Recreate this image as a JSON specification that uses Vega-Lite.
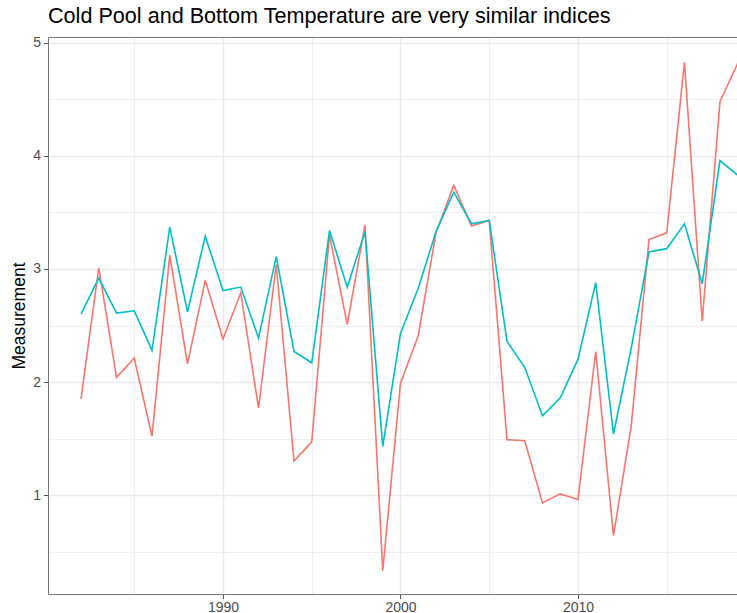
{
  "$schema": "https://vega.github.io/schema/vega-lite/v6.json",
  "width": 689,
  "height": 557,
  "autosize": {"type": "none"},
  "padding": {"left": 48, "top": 37, "right": 0, "bottom": 19},
  "background": "white",
  "title": {
    "text": "Cold Pool and Bottom Temperature are very similar indices",
    "anchor": "start",
    "frame": "group",
    "font": "Liberation Sans",
    "fontSize": 21.6,
    "fontWeight": "normal",
    "color": "#000000",
    "offset": 8
  },
  "config": {
    "view": {"stroke": null},
    "axis": {
      "labelFont": "Liberation Sans",
      "labelFontSize": 14,
      "labelColor": "#4D4D4D",
      "titleFont": "Liberation Sans",
      "titleFontWeight": "normal",
      "titleColor": "#000000",
      "domainColor": "#777777",
      "domainWidth": 1,
      "tickColor": "#555555",
      "tickSize": 4.5,
      "gridColor": "#EBEBEB",
      "labelOverlap": false,
      "labelFlush": false
    }
  },
  "data": {
    "values": [
      {"year": 1982, "series": "Bottom Temperature", "value": 1.85},
      {"year": 1983, "series": "Bottom Temperature", "value": 3.01},
      {"year": 1984, "series": "Bottom Temperature", "value": 2.04},
      {"year": 1985, "series": "Bottom Temperature", "value": 2.21},
      {"year": 1986, "series": "Bottom Temperature", "value": 1.52},
      {"year": 1987, "series": "Bottom Temperature", "value": 3.12},
      {"year": 1988, "series": "Bottom Temperature", "value": 2.16},
      {"year": 1989, "series": "Bottom Temperature", "value": 2.90},
      {"year": 1990, "series": "Bottom Temperature", "value": 2.38},
      {"year": 1991, "series": "Bottom Temperature", "value": 2.79},
      {"year": 1992, "series": "Bottom Temperature", "value": 1.77},
      {"year": 1993, "series": "Bottom Temperature", "value": 3.04},
      {"year": 1994, "series": "Bottom Temperature", "value": 1.30},
      {"year": 1995, "series": "Bottom Temperature", "value": 1.47},
      {"year": 1996, "series": "Bottom Temperature", "value": 3.30},
      {"year": 1997, "series": "Bottom Temperature", "value": 2.51},
      {"year": 1998, "series": "Bottom Temperature", "value": 3.39},
      {"year": 1999, "series": "Bottom Temperature", "value": 0.33},
      {"year": 2000, "series": "Bottom Temperature", "value": 1.99},
      {"year": 2001, "series": "Bottom Temperature", "value": 2.41},
      {"year": 2002, "series": "Bottom Temperature", "value": 3.32},
      {"year": 2003, "series": "Bottom Temperature", "value": 3.74},
      {"year": 2004, "series": "Bottom Temperature", "value": 3.38},
      {"year": 2005, "series": "Bottom Temperature", "value": 3.43},
      {"year": 2006, "series": "Bottom Temperature", "value": 1.49},
      {"year": 2007, "series": "Bottom Temperature", "value": 1.48},
      {"year": 2008, "series": "Bottom Temperature", "value": 0.93},
      {"year": 2009, "series": "Bottom Temperature", "value": 1.01},
      {"year": 2010, "series": "Bottom Temperature", "value": 0.96},
      {"year": 2011, "series": "Bottom Temperature", "value": 2.27},
      {"year": 2012, "series": "Bottom Temperature", "value": 0.64},
      {"year": 2013, "series": "Bottom Temperature", "value": 1.61},
      {"year": 2014, "series": "Bottom Temperature", "value": 3.26},
      {"year": 2015, "series": "Bottom Temperature", "value": 3.32},
      {"year": 2016, "series": "Bottom Temperature", "value": 4.83},
      {"year": 2017, "series": "Bottom Temperature", "value": 2.54},
      {"year": 2018, "series": "Bottom Temperature", "value": 4.48},
      {"year": 2019, "series": "Bottom Temperature", "value": 4.82},
      {"year": 1982, "series": "Cold Pool", "value": 2.60},
      {"year": 1983, "series": "Cold Pool", "value": 2.92},
      {"year": 1984, "series": "Cold Pool", "value": 2.61},
      {"year": 1985, "series": "Cold Pool", "value": 2.63},
      {"year": 1986, "series": "Cold Pool", "value": 2.28},
      {"year": 1987, "series": "Cold Pool", "value": 3.37},
      {"year": 1988, "series": "Cold Pool", "value": 2.62},
      {"year": 1989, "series": "Cold Pool", "value": 3.29},
      {"year": 1990, "series": "Cold Pool", "value": 2.81},
      {"year": 1991, "series": "Cold Pool", "value": 2.84},
      {"year": 1992, "series": "Cold Pool", "value": 2.39},
      {"year": 1993, "series": "Cold Pool", "value": 3.11},
      {"year": 1994, "series": "Cold Pool", "value": 2.27},
      {"year": 1995, "series": "Cold Pool", "value": 2.17},
      {"year": 1996, "series": "Cold Pool", "value": 3.34},
      {"year": 1997, "series": "Cold Pool", "value": 2.84},
      {"year": 1998, "series": "Cold Pool", "value": 3.33},
      {"year": 1999, "series": "Cold Pool", "value": 1.43},
      {"year": 2000, "series": "Cold Pool", "value": 2.43},
      {"year": 2001, "series": "Cold Pool", "value": 2.83},
      {"year": 2002, "series": "Cold Pool", "value": 3.33},
      {"year": 2003, "series": "Cold Pool", "value": 3.68},
      {"year": 2004, "series": "Cold Pool", "value": 3.40},
      {"year": 2005, "series": "Cold Pool", "value": 3.43},
      {"year": 2006, "series": "Cold Pool", "value": 2.36},
      {"year": 2007, "series": "Cold Pool", "value": 2.13},
      {"year": 2008, "series": "Cold Pool", "value": 1.70},
      {"year": 2009, "series": "Cold Pool", "value": 1.86},
      {"year": 2010, "series": "Cold Pool", "value": 2.20},
      {"year": 2011, "series": "Cold Pool", "value": 2.88},
      {"year": 2012, "series": "Cold Pool", "value": 1.54},
      {"year": 2013, "series": "Cold Pool", "value": 2.30},
      {"year": 2014, "series": "Cold Pool", "value": 3.15},
      {"year": 2015, "series": "Cold Pool", "value": 3.18},
      {"year": 2016, "series": "Cold Pool", "value": 3.40},
      {"year": 2017, "series": "Cold Pool", "value": 2.87},
      {"year": 2018, "series": "Cold Pool", "value": 3.96},
      {"year": 2019, "series": "Cold Pool", "value": 3.83}
    ]
  },
  "layer": [
    {
      "mark": {"type": "line", "strokeWidth": 1.6},
      "encoding": {
        "x": {
          "field": "year",
          "type": "quantitative",
          "scale": {"domain": [1980.14, 2018.96], "nice": false, "zero": false},
          "axis": {
            "title": null,
            "values": [1985, 1990, 1995, 2000, 2005, 2010, 2015],
            "format": "d",
            "labelExpr": "datum.value % 10 === 0 ? datum.label : ''",
            "labelPadding": 2,
            "tickOpacity": {"condition": {"test": "datum.value % 10 === 0", "value": 1}, "value": 0},
            "gridWidth": {"condition": {"test": "datum.value % 10 === 0", "value": 1.4}, "value": 0.8}
          }
        },
        "y": {
          "field": "value",
          "type": "quantitative",
          "scale": {"domain": [0.124, 5.053], "nice": false, "zero": false},
          "axis": {
            "title": "Measurement",
            "titleFontSize": 17.5,
            "titlePadding": 4,
            "values": [0.5, 1, 1.5, 2, 2.5, 3, 3.5, 4, 4.5, 5],
            "labelExpr": "datum.value % 1 === 0 ? format(datum.value, 'd') : ''",
            "labelPadding": 3,
            "tickOpacity": {"condition": {"test": "datum.value % 1 === 0", "value": 1}, "value": 0},
            "gridWidth": {"condition": {"test": "datum.value % 1 === 0", "value": 1.4}, "value": 0.8}
          }
        },
        "color": {
          "field": "series",
          "type": "nominal",
          "scale": {"domain": ["Bottom Temperature", "Cold Pool"], "range": ["#F8766D", "#00BFC4"]},
          "legend": null
        }
      }
    },
    {
      "mark": {"type": "line", "opacity": 0},
      "encoding": {
        "x": {
          "field": "year",
          "type": "quantitative",
          "axis": {"orient": "top", "title": null, "labels": false, "ticks": false, "grid": false, "domain": true}
        },
        "y": {"field": "value", "type": "quantitative"},
        "detail": {"field": "series", "type": "nominal"}
      }
    }
  ],
  "resolve": {"axis": {"x": "independent"}}
}
